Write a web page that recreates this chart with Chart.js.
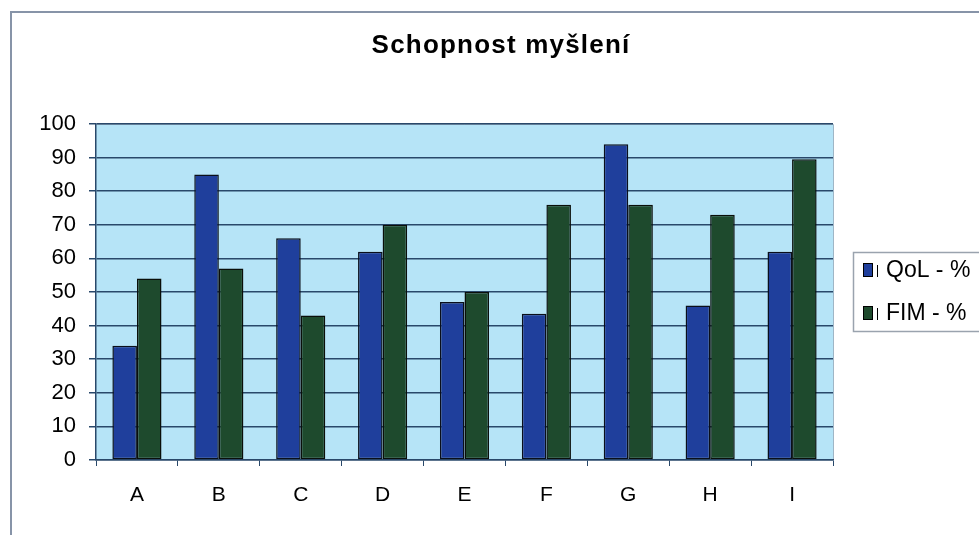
<!DOCTYPE html>
<html>
<head>
<meta charset="utf-8">
<title>Schopnost myšlení</title>
<script src="https://cdn.jsdelivr.net/npm/chart.js@4/dist/chart.umd.min.js"></script>
<style>
  html, body { margin: 0; padding: 0; background: #ffffff; }
  canvas { display: block; }
</style>
</head>
<body>
<canvas id="chart" width="979" height="535"></canvas>
<script>
// Categories and values (percent)
const categories = ['A', 'B', 'C', 'D', 'E', 'F', 'G', 'H', 'I'];
const qolValues = [34, 85, 66, 62, 47, 43.5, 94, 46, 62];
const fimValues = [54, 57, 43, 70, 50, 76, 76, 73, 89.5];
const seriesLabels = ['QoL - %', 'FIM - %'];
const yTicks = [0, 10, 20, 30, 40, 50, 60, 70, 80, 90, 100];

const titleText = 'Schopnost myšlení';
const FONT = '"Liberation Sans", Arial, sans-serif';
const NAVY = '#29486a';

// Outer frame, plot background, title and boxed legend
const decorations = {
  id: 'decorations',
  beforeDraw(chart) {
    const { ctx, chartArea: a } = chart;
    ctx.save();
    ctx.fillStyle = '#ffffff';
    ctx.fillRect(0, 0, chart.width, chart.height);
    // frame around the whole chart
    ctx.strokeStyle = '#8794a8';
    ctx.lineWidth = 2;
    ctx.beginPath();
    ctx.moveTo(11, chart.height + 2);
    ctx.lineTo(11, 12);
    ctx.lineTo(chart.width + 2, 12);
    ctx.stroke();
    // plot area fill
    ctx.fillStyle = '#b6e4f7';
    ctx.fillRect(a.left, a.top, a.right - a.left, a.bottom - a.top);
    ctx.strokeStyle = '#9fb6c6';
    ctx.lineWidth = 1;
    ctx.beginPath();
    ctx.moveTo(a.left, a.top + 0.5);
    ctx.lineTo(a.right + 0.5, a.top + 0.5);
    ctx.lineTo(a.right + 0.5, a.bottom);
    ctx.stroke();
    ctx.restore();
  },
  afterDraw(chart) {
    const { ctx } = chart;
    ctx.save();
    // title
    ctx.fillStyle = '#000000';
    ctx.font = 'bold 26px ' + FONT;
    if ('letterSpacing' in ctx) ctx.letterSpacing = '1.2px';
    ctx.textAlign = 'center';
    ctx.textBaseline = 'alphabetic';
    ctx.fillText(titleText, 501, 53);
    if ('letterSpacing' in ctx) ctx.letterSpacing = '0px';
    // legend box
    ctx.strokeStyle = '#9aa3ae';
    ctx.lineWidth = 1.5;
    ctx.strokeRect(853.5, 252.5, 140, 79);
    ctx.font = '23px ' + FONT;
    ctx.textAlign = 'left';
    ctx.textBaseline = 'middle';
    const rows = [270, 313];
    chart.data.datasets.forEach((ds, i) => {
      const cy = rows[i];
      ctx.fillStyle = ds.backgroundColor;
      ctx.fillRect(863, cy - 7, 10, 14);
      ctx.strokeStyle = '#000000';
      ctx.lineWidth = 1;
      ctx.strokeRect(863.5, cy - 6.5, 9, 13);
      ctx.beginPath();
      ctx.moveTo(877.5, cy - 5);
      ctx.lineTo(877.5, cy + 7);
      ctx.stroke();
      ctx.fillStyle = '#000000';
      ctx.fillText(ds.label, 886, cy + 1);
    });
    ctx.restore();
  }
};

new Chart(document.getElementById('chart'), {
  type: 'bar',
  data: {
    labels: categories,
    datasets: [
      {
        label: seriesLabels[0],
        data: qolValues,
        backgroundColor: '#1f3f9c',
        borderColor: '#0a0f1a',
        borderWidth: 1.5,
        borderSkipped: false
      },
      {
        label: seriesLabels[1],
        data: fimValues,
        backgroundColor: '#1e4a2d',
        borderColor: '#0a0f0a',
        borderWidth: 1.5,
        borderSkipped: false
      }
    ]
  },
  options: {
    responsive: false,
    animation: false,
    devicePixelRatio: 1,
    layout: { padding: { left: 0, right: 146, top: 124, bottom: 25 } },
    datasets: {
      bar: { barPercentage: 1.0, categoryPercentage: 0.6 }
    },
    plugins: {
      legend: { display: false },
      title: { display: false },
      tooltip: { enabled: false }
    },
    scales: {
      x: {
        afterFit(scale) { scale.height = 50; },
        grid: {
          offset: true,
          drawOnChartArea: false,
          drawTicks: true,
          tickLength: 6,
          color: NAVY,
          lineWidth: 1
        },
        border: { display: true, color: NAVY, width: 1.5 },
        ticks: {
          color: '#000000',
          padding: 17,
          font: { family: FONT, size: 21 }
        }
      },
      y: {
        min: 0,
        max: 100,
        afterFit(scale) { scale.width = 96; },
        afterBuildTicks(scale) { scale.ticks = yTicks.map(v => ({ value: v })); },
        grid: {
          drawTicks: true,
          tickLength: 7,
          color: NAVY,
          lineWidth: 1.5
        },
        border: { display: true, color: NAVY, width: 1.5 },
        ticks: {
          color: '#000000',
          padding: 13,
          font: { family: FONT, size: 22 }
        }
      }
    }
  },
  plugins: [decorations]
});
</script>
</body>
</html>
